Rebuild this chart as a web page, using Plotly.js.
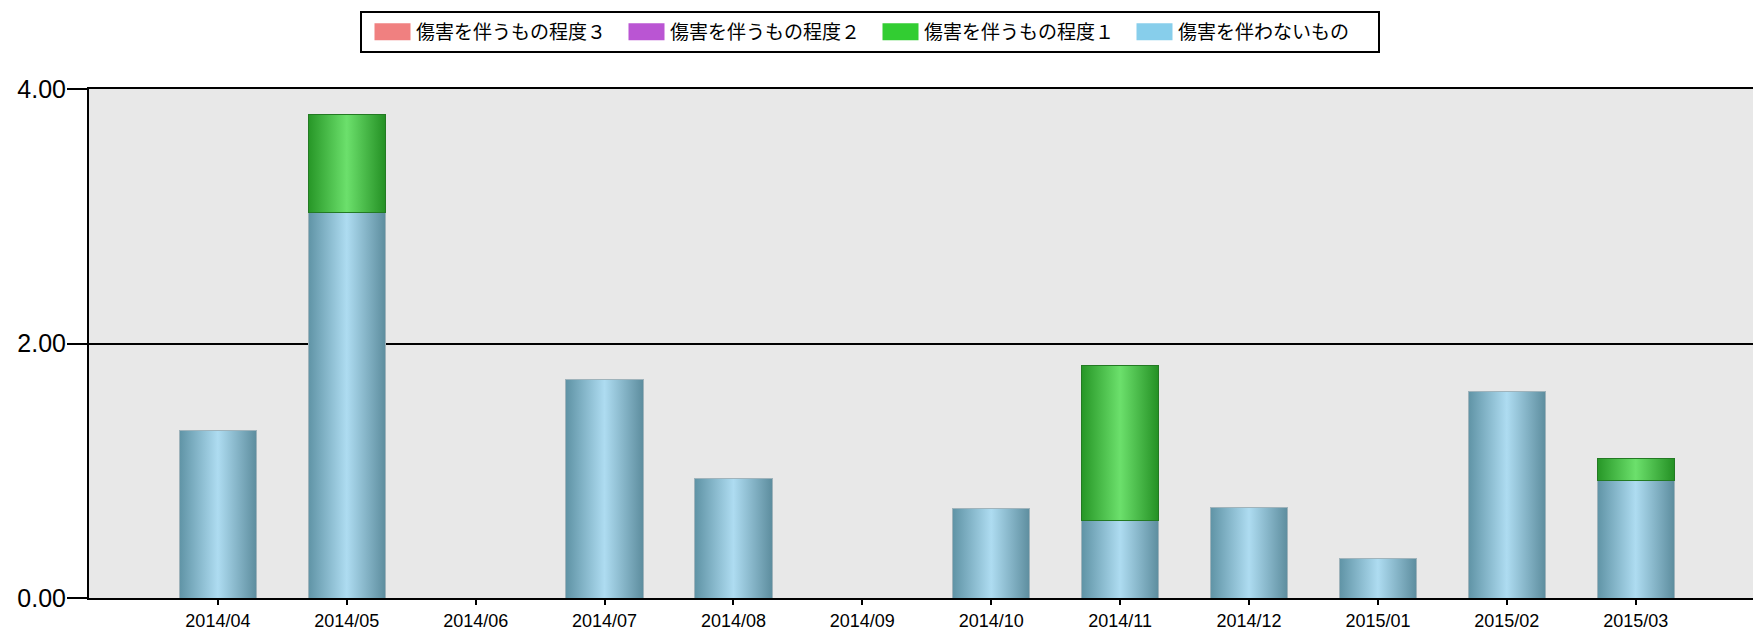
<!DOCTYPE html>
<html>
<head>
<meta charset="utf-8">
<script src="https://cdn.plot.ly/plotly-3.0.1.min.js"></script>
<style>
  html, body { margin: 0; padding: 0; background: #ffffff; }
  #chart { width: 1753px; height: 631px; }
</style>
</head>
<body>
<div id="chart"></div>
<script>
// ---- data ----
const months = ["2014/04","2014/05","2014/06","2014/07","2014/08","2014/09","2014/10","2014/11","2014/12","2015/01","2015/02","2015/03"];
const seriesNames = ["傷害を伴わないもの","傷害を伴うもの程度１","傷害を伴うもの程度２","傷害を伴うもの程度３"];
const noInjury = [1.32, 3.03, 0, 1.72, 0.94, 0, 0.70, 0.61, 0.71, 0.31, 1.62, 0.92];
const injuryLevel1 = [0, 0.77, 0, 0, 0, 0, 0, 1.22, 0, 0, 0, 0.18];
const injuryLevel2 = [0, 0, 0, 0, 0, 0, 0, 0, 0, 0, 0, 0];
const injuryLevel3 = [0, 0, 0, 0, 0, 0, 0, 0, 0, 0, 0, 0];
const yTicks = [0, 2, 4];

const colors = ["#87CEEB", "#32CD32", "#BA55D3", "#F08080"];
const lineColors = ["#9fb3bb", "#237a23", "#8a3aa0", "#c05a5a"];
const values = [noInjury, injuryLevel1, injuryLevel2, injuryLevel3];

const traces = values.map((v, i) => ({
  type: "bar",
  name: seriesNames[i],
  x: months,
  y: v,
  width: 0.6,
  marker: {
    color: colors[i],
    line: { color: lineColors[i], width: v.map(d => (d > 0 ? 1 : 0)) }
  },
  hoverinfo: "x+y+name"
}));

const layout = {
  width: 1753,
  height: 631,
  paper_bgcolor: "#ffffff",
  plot_bgcolor: "#E8E8E8",
  barmode: "stack",
  margin: { l: 89, r: 0, t: 89, b: 33, pad: 0 },
  font: { family: "Liberation Sans, Arial, sans-serif", color: "#000000" },
  showlegend: true,
  legend: {
    orientation: "h",
    traceorder: "reversed",
    xref: "container", yref: "container",
    x: 360 / 1753, xanchor: "left",
    y: 1 - 11 / 631, yanchor: "top",
    bordercolor: "#000000", borderwidth: 2,
    bgcolor: "#ffffff",
    font: { family: "Noto Sans CJK JP, sans-serif", size: 19, color: "#000000" },
    itemwidth: 44,
    entrywidth: 195,
    entrywidthmode: "pixels"
  },
  xaxis: {
    type: "category",
    range: [-1, 11.91],
    showline: true, linecolor: "#000000", linewidth: 2,
    mirror: true,
    ticks: "outside", ticklen: 5, tickwidth: 2, tickcolor: "#000000",
    showgrid: false, zeroline: false,
    tickfont: { family: "Liberation Sans, Arial, sans-serif", size: 18, color: "#000000" },
    fixedrange: true
  },
  yaxis: {
    range: [0, 4],
    tickvals: yTicks,
    ticktext: yTicks.map(v => v.toFixed(2)),
    showline: true, linecolor: "#000000", linewidth: 2,
    ticks: "outside", ticklen: 20, tickwidth: 2, tickcolor: "#000000",
    showgrid: true, gridcolor: "#000000", gridwidth: 2,
    zeroline: false,
    ticklabelstandoff: -4,
    tickfont: { family: "Liberation Sans, Arial, sans-serif", size: 25, color: "#000000" },
    fixedrange: true
  }
};

const gd = document.getElementById("chart");
const svgNS = "http://www.w3.org/2000/svg";
function decorate() {
  const defs = gd.querySelector("svg.main-svg defs");
  if (!defs) return;
  function addGrad(id, stops) {
    if (defs.querySelector("#" + id)) return;
    const g = document.createElementNS(svgNS, "linearGradient");
    g.setAttribute("id", id);
    g.setAttribute("x1", "0"); g.setAttribute("y1", "0");
    g.setAttribute("x2", "1"); g.setAttribute("y2", "0");
    stops.forEach(([off, col]) => {
      const s = document.createElementNS(svgNS, "stop");
      s.setAttribute("offset", off);
      s.setAttribute("stop-color", col);
      g.appendChild(s);
    });
    defs.appendChild(g);
  }
  addGrad("gradBlue", [["0", "#5f93a5"], ["0.5", "#aedcf1"], ["1", "#5d8d9e"]]);
  addGrad("gradGreen", [["0", "#269626"], ["0.5", "#6ce06c"], ["1", "#249024"]]);
  addGrad("gradPurple", [["0", "#8a3aa0"], ["0.5", "#d68ae8"], ["1", "#8a3aa0"]]);
  addGrad("gradRed", [["0", "#c05a5a"], ["0.5", "#f8b0b0"], ["1", "#c05a5a"]]);
  const gradIds = ["gradBlue", "gradGreen", "gradPurple", "gradRed"];
  gd.querySelectorAll(".barlayer .trace.bars").forEach((tr, i) => {
    tr.querySelectorAll("path").forEach(p => { p.style.fill = "url(#" + gradIds[i] + ")"; });
  });
  gd.querySelectorAll(".legend .legendpoints path").forEach(p => {
    p.setAttribute("d", "M-14.5,-8.5H21.5V8.5H-14.5Z");
    p.style.strokeWidth = "0";
  });
}
Plotly.newPlot(gd, traces, layout, { displayModeBar: false, staticPlot: true }).then(() => {
  gd.on("plotly_afterplot", decorate);
  decorate();
  setTimeout(decorate, 50);
});
</script>
</body>
</html>
